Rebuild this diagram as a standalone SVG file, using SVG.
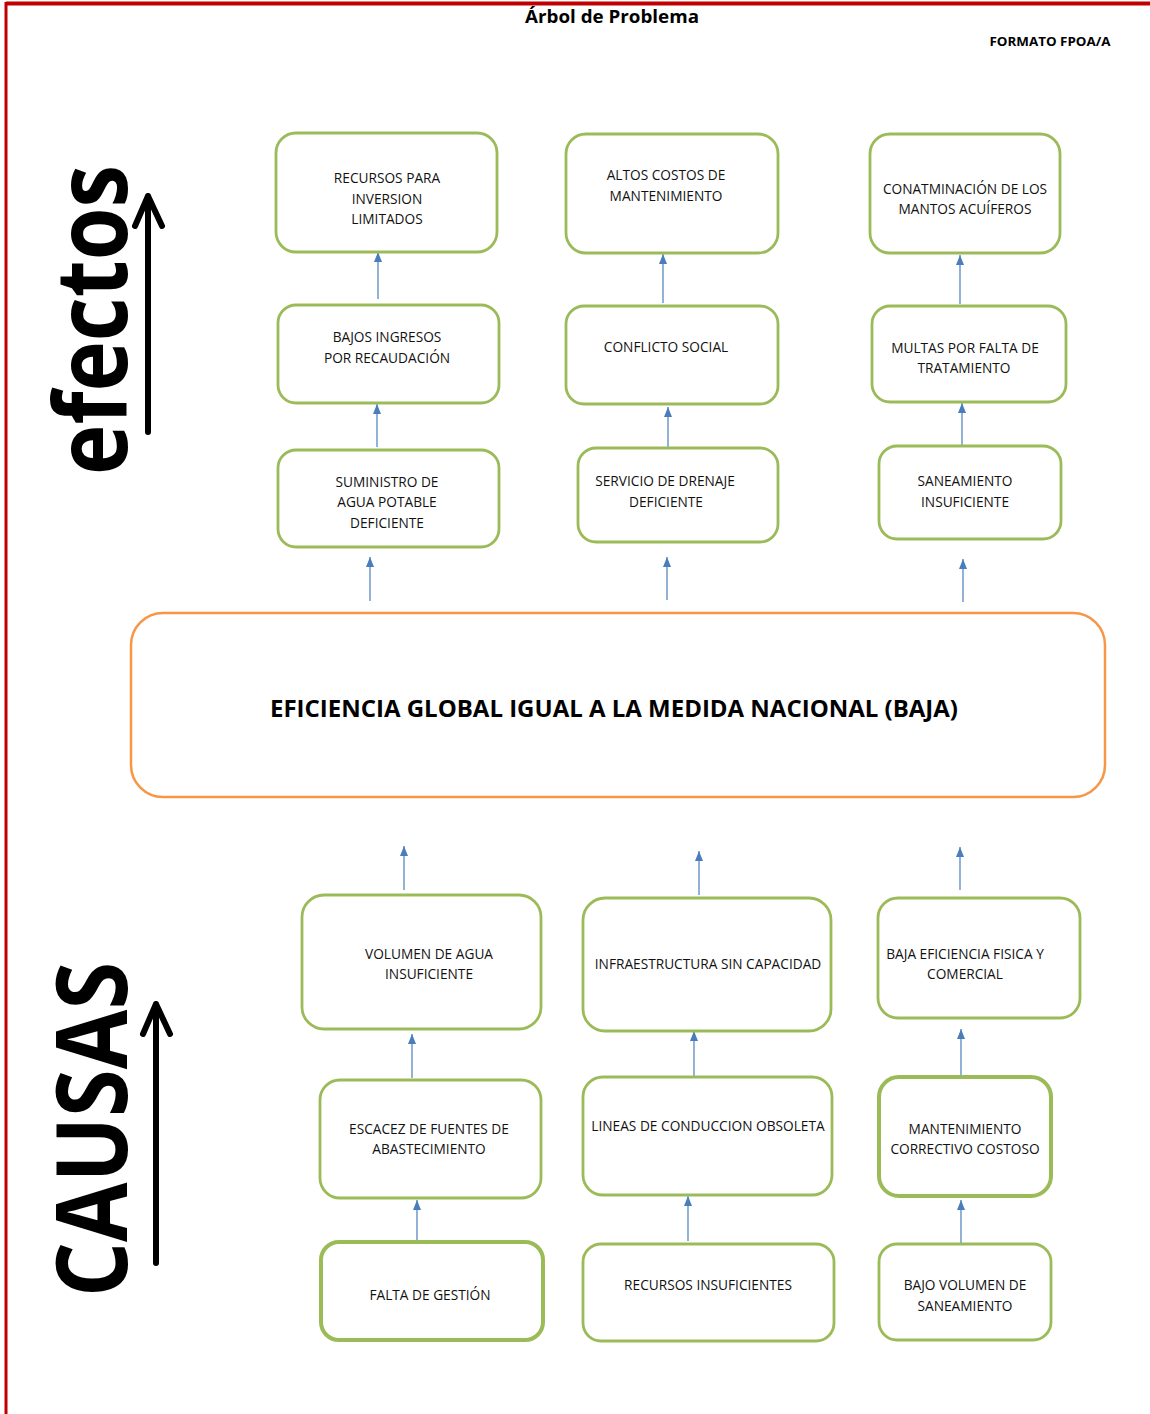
<svg xmlns="http://www.w3.org/2000/svg" width="1150" height="1414" viewBox="0 0 1150 1414">
<defs>
<style>
.box{fill:#fff;stroke:#9BBB59;stroke-width:2.8}
.thick{stroke-width:4}
.core{fill:#fff;stroke:#F79646;stroke-width:2.5}
.lbl{font-family:"Open Sans","Liberation Sans",sans-serif;font-size:13.7px;fill:#111;text-anchor:middle}
.conn line{stroke:#4A7EBB;stroke-width:1.2;marker-end:url(#ah)}
.big{stroke:#000;stroke-width:6;fill:none;stroke-linecap:round;stroke-linejoin:round}
.side{font-family:"Open Sans","Liberation Sans",sans-serif;font-weight:700;fill:#000}
</style>
<marker id="ah" markerUnits="userSpaceOnUse" markerWidth="10" markerHeight="10" viewBox="0 0 10 10" refX="10" refY="5" orient="auto">
<path d="M0,1 L10,5 L0,9 Z" fill="#4A7EBB"/>
</marker>
</defs>
<rect width="1150" height="1414" fill="#fff"/>
<g id="frame">
<line x1="6" y1="3.5" x2="1150" y2="3.5" stroke="#C00000" stroke-width="4"/>
<line x1="6" y1="2" x2="6" y2="1414" stroke="#C00000" stroke-width="3"/>
</g>
<g id="header">
<text x="612" y="23" font-family="Open Sans, Liberation Sans, sans-serif" font-weight="700" font-size="17" text-anchor="middle" textLength="174" lengthAdjust="spacingAndGlyphs">Árbol de Problema</text>
<text x="1050" y="46" font-family="Open Sans, Liberation Sans, sans-serif" font-weight="700" font-size="12.5" text-anchor="middle" textLength="121" lengthAdjust="spacingAndGlyphs">FORMATO FPOA/A</text>
</g>
<g id="efectos-label">
<text class="side" font-size="100" transform="translate(127,475) rotate(-90)" textLength="310" lengthAdjust="spacingAndGlyphs">efectos</text>
<path class="big" d="M148,432 L148,196 M135,226 L148,196 L162,226"/>
</g>
<g id="causas-label">
<text class="side" font-size="98" transform="translate(127,1297) rotate(-90)" textLength="335" lengthAdjust="spacingAndGlyphs">CAUSAS</text>
<path class="big" d="M156,1263 L156,1004 M143,1034 L156,1004 L170,1034"/>
</g>

<g id="connectors" class="conn">
<line x1="378" y1="299" x2="378" y2="252"/>
<line x1="377" y1="447" x2="377" y2="404"/>
<line x1="663" y1="303" x2="663" y2="254"/>
<line x1="668" y1="451" x2="668" y2="407"/>
<line x1="960" y1="304" x2="960" y2="255"/>
<line x1="962" y1="446" x2="962" y2="403"/>
<line x1="370" y1="601" x2="370" y2="557"/>
<line x1="667" y1="600" x2="667" y2="557"/>
<line x1="963" y1="602" x2="963" y2="559"/>
<line x1="404" y1="890" x2="404" y2="846"/>
<line x1="699" y1="895" x2="699" y2="851"/>
<line x1="960" y1="890" x2="960" y2="847"/>
<line x1="412" y1="1078" x2="412" y2="1034"/>
<line x1="417" y1="1241" x2="417" y2="1200"/>
<line x1="694" y1="1076" x2="694" y2="1031"/>
<line x1="688" y1="1241" x2="688" y2="1196"/>
<line x1="961" y1="1076" x2="961" y2="1029"/>
<line x1="961" y1="1243" x2="961" y2="1200"/>
</g>

<g id="e-recursos">
<rect class="box" x="276" y="133" width="221" height="119" rx="20"/>
<text class="lbl"><tspan x="387" y="183">RECURSOS PARA</tspan><tspan x="387" y="204">INVERSION</tspan><tspan x="387" y="224">LIMITADOS</tspan></text>
</g>
<g id="e-bajos-ingresos">
<rect class="box" x="278" y="305" width="221" height="98" rx="18"/>
<text class="lbl"><tspan x="387" y="342">BAJOS INGRESOS</tspan><tspan x="387" y="363">POR RECAUDACIÓN</tspan></text>
</g>
<g id="e-suministro">
<rect class="box" x="278" y="450" width="221" height="97" rx="18"/>
<text class="lbl"><tspan x="387" y="487">SUMINISTRO DE</tspan><tspan x="387" y="507">AGUA POTABLE</tspan><tspan x="387" y="528">DEFICIENTE</tspan></text>
</g>
<g id="e-altos-costos">
<rect class="box" x="566" y="134" width="212" height="119" rx="20"/>
<text class="lbl"><tspan x="666" y="180">ALTOS COSTOS DE</tspan><tspan x="666" y="201">MANTENIMIENTO</tspan></text>
</g>
<g id="e-conflicto">
<rect class="box" x="566" y="306" width="212" height="98" rx="18"/>
<text class="lbl"><tspan x="666" y="352">CONFLICTO SOCIAL</tspan></text>
</g>
<g id="e-drenaje">
<rect class="box" x="578" y="448" width="200" height="94" rx="18"/>
<text class="lbl"><tspan x="665" y="486">SERVICIO DE DRENAJE</tspan><tspan x="666" y="507">DEFICIENTE</tspan></text>
</g>
<g id="e-contaminacion">
<rect class="box" x="870" y="134" width="190" height="119" rx="20"/>
<text class="lbl"><tspan x="965" y="194">CONATMINACIÓN DE LOS</tspan><tspan x="965" y="214">MANTOS ACUÍFEROS</tspan></text>
</g>
<g id="e-multas">
<rect class="box" x="872" y="306" width="194" height="96" rx="18"/>
<text class="lbl"><tspan x="965" y="353">MULTAS POR FALTA DE</tspan><tspan x="964" y="373">TRATAMIENTO</tspan></text>
</g>
<g id="e-saneamiento">
<rect class="box" x="879" y="446" width="182" height="93" rx="18"/>
<text class="lbl"><tspan x="965" y="486">SANEAMIENTO</tspan><tspan x="965" y="507">INSUFICIENTE</tspan></text>
</g>

<g id="problema-central">
<rect class="core" x="131" y="613" width="974" height="184" rx="32"/>
<text x="614" y="717" font-family="Open Sans, Liberation Sans, sans-serif" font-weight="700" font-size="24" text-anchor="middle" textLength="688" lengthAdjust="spacingAndGlyphs">EFICIENCIA GLOBAL IGUAL A LA MEDIDA NACIONAL (BAJA)</text>
</g>

<g id="c-volumen-agua">
<rect class="box" x="302" y="895" width="239" height="134" rx="22"/>
<text class="lbl"><tspan x="429" y="959">VOLUMEN DE AGUA</tspan><tspan x="429" y="979">INSUFICIENTE</tspan></text>
</g>
<g id="c-escacez">
<rect class="box" x="320" y="1080" width="221" height="118" rx="20"/>
<text class="lbl"><tspan x="429" y="1134">ESCACEZ DE FUENTES DE</tspan><tspan x="429" y="1154">ABASTECIMIENTO</tspan></text>
</g>
<g id="c-falta-gestion">
<rect class="box thick" x="321" y="1242" width="222" height="98" rx="18"/>
<text class="lbl"><tspan x="430" y="1300">FALTA DE GESTIÓN</tspan></text>
</g>
<g id="c-infraestructura">
<rect class="box" x="583" y="898" width="248" height="133" rx="22"/>
<text class="lbl"><tspan x="708" y="969">INFRAESTRUCTURA SIN CAPACIDAD</tspan></text>
</g>
<g id="c-lineas">
<rect class="box" x="583" y="1077" width="249" height="118" rx="20"/>
<text class="lbl"><tspan x="708" y="1131">LINEAS DE CONDUCCION OBSOLETA</tspan></text>
</g>
<g id="c-recursos-insuf">
<rect class="box" x="583" y="1244" width="251" height="97" rx="18"/>
<text class="lbl"><tspan x="708" y="1290">RECURSOS INSUFICIENTES</tspan></text>
</g>
<g id="c-baja-eficiencia">
<rect class="box" x="878" y="898" width="202" height="120" rx="20"/>
<text class="lbl"><tspan x="965" y="959">BAJA EFICIENCIA FISICA Y</tspan><tspan x="965" y="979">COMERCIAL</tspan></text>
</g>
<g id="c-mantenimiento">
<rect class="box thick" x="879" y="1077" width="172" height="119" rx="20"/>
<text class="lbl"><tspan x="965" y="1134">MANTENIMIENTO</tspan><tspan x="965" y="1154">CORRECTIVO COSTOSO</tspan></text>
</g>
<g id="c-bajo-volumen">
<rect class="box" x="879" y="1244" width="172" height="96" rx="18"/>
<text class="lbl"><tspan x="965" y="1290">BAJO VOLUMEN DE</tspan><tspan x="965" y="1311">SANEAMIENTO</tspan></text>
</g>
</svg>
